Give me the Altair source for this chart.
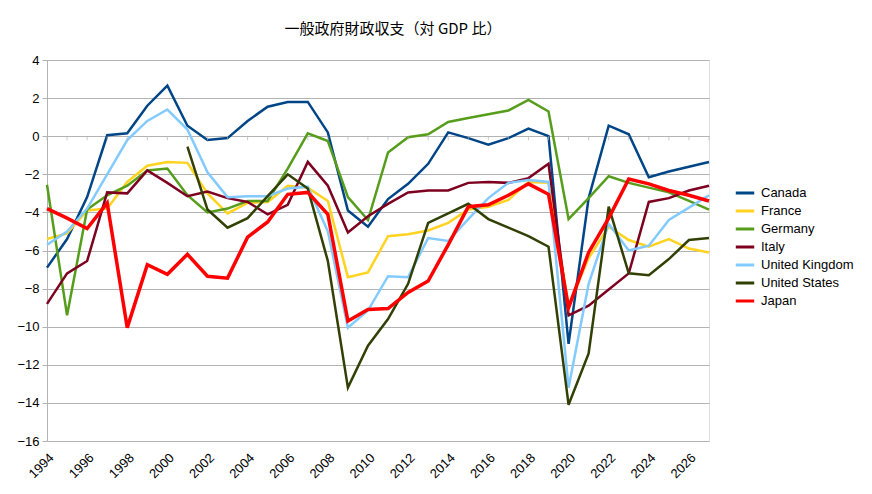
import altair as alt
import pandas as pd

years = list(range(1994, 2028))

canada = [-6.9, -5.4, -3.2, 0.05, 0.15, 1.6, 2.65, 0.55, -0.2, -0.1, 0.8, 1.55, 1.8, 1.8, 0.2,
          -3.9, -4.75, -3.3, -2.5, -1.45, 0.2, -0.1, -0.45, -0.1, 0.4, 0.0, -10.9, -3.25, 0.55,
          0.1, -2.15, -1.85, -1.6, -1.35]
france = [-5.4, -5.1, -3.9, -3.8, -2.4, -1.55, -1.35, -1.4, -3.0, -4.05, -3.5, -3.45, -2.6, -2.7,
          -3.4, -7.4, -7.15, -5.25, -5.15, -4.95, -4.55, -3.85, -3.7, -3.35, -2.4, -2.45, -8.9,
          -6.4, -4.75, -5.45, -5.8, -5.4, -5.9, -6.1]
germany = [-2.55, -9.4, -3.85, -3.1, -2.6, -1.8, -1.7, -3.1, -4.0, -3.8, -3.4, -3.4, -1.7, 0.15,
           -0.25, -3.2, -4.4, -0.85, -0.05, 0.1, 0.75, 0.95, 1.15, 1.35, 1.9, 1.3, -4.35, -3.25,
           -2.1, -2.45, -2.7, -2.95, -3.4, -3.85]
italy = [-8.8, -7.2, -6.55, -2.95, -3.0, -1.8, -2.45, -3.15, -2.9, -3.25, -3.45, -4.1, -3.6, -1.35,
         -2.6, -5.05, -4.2, -3.55, -2.95, -2.85, -2.85, -2.45, -2.4, -2.45, -2.2, -1.45, -9.4,
         -8.9, -8.05, -7.2, -3.45, -3.25, -2.85, -2.6]
uk = [-5.7, -5.0, -3.8, -2.0, -0.2, 0.8, 1.4, 0.35, -1.9, -3.2, -3.15, -3.15, -2.75, -2.65, -5.0,
      -10.05, -9.15, -7.35, -7.4, -5.35, -5.5, -4.35, -3.25, -2.45, -2.3, -2.4, -13.2, -7.75,
      -4.6, -6.0, -5.75, -4.4, -3.75, -3.1]
us = [None, None, None, None, None, None, None, -0.55, -3.85, -4.8, -4.3, -3.15, -2.0, -2.75,
      -6.55, -13.2, -11.0, -9.6, -7.75, -4.55, -4.05, -3.55, -4.35, -4.8, -5.25, -5.8, -14.1,
      -11.4, -3.7, -7.2, -7.3, -6.45, -5.45, -5.35]
japan = [-3.8, -4.3, -4.85, -3.5, -10.05, -6.75, -7.25, -6.2, -7.35, -7.45, -5.3, -4.5, -3.05,
         -2.95, -4.1, -9.7, -9.1, -9.05, -8.2, -7.6, -5.7, -3.7, -3.6, -3.1, -2.5, -3.05, -9.0,
         -6.1, -4.3, -2.25, -2.5, -2.85, -3.1, -3.4]

series_names = ["Canada", "France", "Germany", "Italy", "United Kingdom", "United States", "Japan"]
series_colors = ["#004586", "#ffd320", "#579d1c", "#7e0021", "#83caff", "#314004", "#ff0000"]
series_values = [canada, france, germany, italy, uk, us, japan]

y_ticks = list(range(-16, 5, 2))
x_labels = list(range(1994, 2027, 2))

rows = []
for name, vals in zip(series_names, series_values):
    for yr, v in zip(years, vals):
        if v is not None:
            rows.append({"year": yr, "country": name, "value": v})
df = pd.DataFrame(rows)
ticks_df = pd.DataFrame({"year": years})

color = alt.Color(
    "country:N",
    scale=alt.Scale(domain=series_names, range=series_colors),
    legend=alt.Legend(
        title=None, orient="none", legendX=687, legendY=122,
        symbolType="stroke", symbolSize=340, symbolStrokeWidth=3,
        labelFont="Liberation Sans", labelFontSize=13, labelColor="#000000",
        labelOffset=5, rowPadding=0,
    ),
)

x_scale = alt.Scale(domain=[1994, 2027], nice=False, zero=False)
y_scale = alt.Scale(domain=[-16, 4], nice=False, zero=False)

x_axis = alt.Axis(
    title=None, values=x_labels, format="d", labelAngle=-45, tickSize=0,
    labelPadding=10, grid=False, domain=False, labelFlush=False,
    labelFont="Liberation Sans", labelFontSize=13, labelColor="#000000",
)
y_axis = alt.Axis(
    title=None, values=y_ticks, tickSize=5, tickColor="#b3b3b3",
    domainColor="#b3b3b3", gridColor="#b3b3b3", labelPadding=3,
    labelFont="Liberation Sans", labelFontSize=13, labelColor="#000000",
)

x = alt.X("year:Q", scale=x_scale, axis=x_axis)
y = alt.Y("value:Q", scale=y_scale, axis=y_axis)

others = alt.Chart(df).transform_filter(alt.datum.country != "Japan").mark_line(
    strokeWidth=2.5
).encode(x=x, y=y, color=color, detail="country:N")

jp = alt.Chart(df).transform_filter(alt.datum.country == "Japan").mark_line(
    strokeWidth=3.5
).encode(x=x, y=y, color=color)

tick_marks = alt.Chart(ticks_df).mark_tick(
    orient="vertical", size=4, thickness=1, color="#b3b3b3", yOffset=2
).encode(x=alt.X("year:Q", scale=x_scale, axis=x_axis),
         y=alt.YDatum(0, scale=y_scale, axis=y_axis))

chart = alt.layer(others, jp, tick_marks).properties(
    width=662, height=381,
    title=alt.TitleParams(
        "一般政府財政収支（対 GDP 比）", font="Noto Sans CJK JP", fontSize=15,
        fontWeight="normal", color="#000000", anchor="middle", dx=15, offset=17,
    ),
    autosize=alt.AutoSizeParams(type="none"),
    padding={"left": 39, "top": 52, "right": 155, "bottom": 45},
).configure_view(stroke="#b3b3b3").configure(background="#ffffff")

chart.save("out.html", embed_options={"renderer": "svg", "actions": False})
